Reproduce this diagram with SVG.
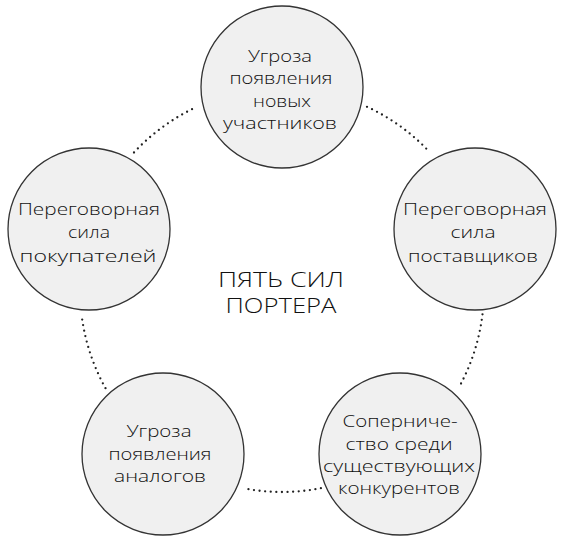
<svg xmlns="http://www.w3.org/2000/svg" width="564" height="545" viewBox="0 0 564 545">
<style>
.node{fill:#f0f0f0;stroke:#333;stroke-width:1.3}
.t{font-family:"Open Sans","DejaVu Sans",sans-serif;font-weight:300;font-size:17px;fill:#111;text-anchor:middle}
.title{font-family:"Open Sans","DejaVu Sans",sans-serif;font-weight:300;font-size:21px;fill:#111;text-anchor:middle}
.arc{fill:none;stroke:#222;stroke-width:2.3;stroke-linecap:round;stroke-dasharray:0 5.6}
</style>
<rect width="564" height="545" fill="#fff"/>
<g id="connectors">
<path class="arc" d="M367,106.8 A202,202 0 0 1 430,152.5"/>
<path class="arc" d="M482.5,314.3 A202,202 0 0 1 458.5,388.2"/>
<path class="arc" d="M320.9,488.2 A202,202 0 0 1 243.1,488.2"/>
<path class="arc" d="M105.5,388.2 A202,202 0 0 1 81.5,314.3"/>
<path class="arc" d="M134,152.5 A202,202 0 0 1 197,106.8"/>
</g>
<g id="threat-new">
<circle class="node" cx="282" cy="87" r="81"/>
<text class="t" x="280" y="61.5" textLength="64" lengthAdjust="spacingAndGlyphs">Угроза</text>
<text class="t" x="281" y="84" textLength="103" lengthAdjust="spacingAndGlyphs">появления</text>
<text class="t" x="282" y="106.5" textLength="58" lengthAdjust="spacingAndGlyphs">новых</text>
<text class="t" x="280" y="129" textLength="114" lengthAdjust="spacingAndGlyphs">участников</text>
</g>
<g id="suppliers">
<circle class="node" cx="475" cy="229" r="81"/>
<text class="t" x="475" y="215" textLength="144" lengthAdjust="spacingAndGlyphs">Переговорная</text>
<text class="t" x="473" y="238" textLength="45" lengthAdjust="spacingAndGlyphs">сила</text>
<text class="t" x="473" y="262" textLength="130" lengthAdjust="spacingAndGlyphs">поставщиков</text>
</g>
<g id="rivalry">
<circle class="node" cx="400" cy="454" r="81"/>
<text class="t" x="400" y="427" textLength="115" lengthAdjust="spacingAndGlyphs">Соперниче-</text>
<text class="t" x="399" y="450" textLength="107" lengthAdjust="spacingAndGlyphs">ство среди</text>
<text class="t" x="399" y="472" textLength="152" lengthAdjust="spacingAndGlyphs">существующих</text>
<text class="t" x="399" y="494" textLength="122" lengthAdjust="spacingAndGlyphs">конкурентов</text>
</g>
<g id="substitutes">
<circle class="node" cx="163" cy="454" r="81"/>
<text class="t" x="159" y="437" textLength="65" lengthAdjust="spacingAndGlyphs">Угроза</text>
<text class="t" x="160" y="460" textLength="103" lengthAdjust="spacingAndGlyphs">появления</text>
<text class="t" x="160" y="482" textLength="92" lengthAdjust="spacingAndGlyphs">аналогов</text>
</g>
<g id="buyers">
<circle class="node" cx="89" cy="229" r="81"/>
<text class="t" x="89" y="215" textLength="142" lengthAdjust="spacingAndGlyphs">Переговорная</text>
<text class="t" x="89" y="238" textLength="42" lengthAdjust="spacingAndGlyphs">сила</text>
<text class="t" x="88" y="262" textLength="137" lengthAdjust="spacingAndGlyphs">покупателей</text>
</g>
<g id="title">
<text class="title" x="281" y="287" textLength="126" lengthAdjust="spacingAndGlyphs">ПЯТЬ СИЛ</text>
<text class="title" x="281" y="313" textLength="111" lengthAdjust="spacingAndGlyphs">ПОРТЕРА</text>
</g>
</svg>
